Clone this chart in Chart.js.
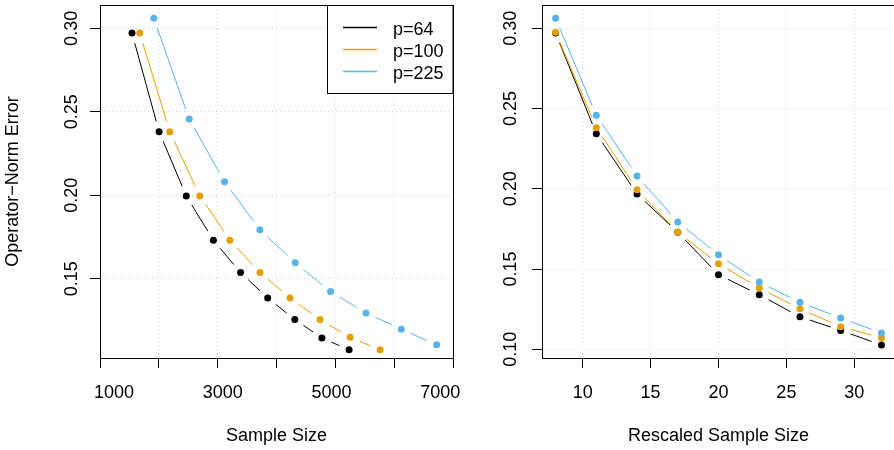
<!DOCTYPE html>
<html>
<head>
<meta charset="utf-8">
<script src="https://cdn.jsdelivr.net/npm/chart.js@4/dist/chart.umd.min.js"></script>
<style>
	html, body { margin: 0; padding: 0; background: #fff; overflow: hidden; width: 894px; height: 450px; }
	#left-chart { position: absolute; left: 0; top: 0; }
	#right-chart { position: absolute; left: 460px; top: 0; }
</style>
</head>
<body>
<canvas id="left-chart" width="470" height="450"></canvas>
<canvas id="right-chart" width="450" height="450"></canvas>
<script>
// series
var seriesLabels = ['p=64', 'p=100', 'p=225'];
var seriesColors = ['#000000', '#E69F00', '#56B4E9'];

// left panel : sample size
var sampleSizeP64 = [1331, 1830, 2329, 2828, 3327, 3826, 4325, 4824, 5323];
var sampleSizeP100 = [1474, 2026, 2579, 3132, 3684, 4237, 4789, 5342, 5895];
var sampleSizeP225 = [1733, 2383, 3033, 3683, 4333, 4983, 5633, 6283, 6933];

// left panel : operator-norm error
var leftErrorP64 = [0.2972, 0.2381, 0.1996, 0.1731, 0.1537, 0.1385, 0.1255, 0.1145, 0.1074];
var leftErrorP100 = [0.2972, 0.2381, 0.1996, 0.1731, 0.1537, 0.1385, 0.1255, 0.1149, 0.1074];
var leftErrorP225 = [0.3060, 0.2457, 0.2081, 0.1794, 0.1595, 0.1423, 0.1295, 0.1198, 0.1104];

// right panel : rescaled sample size
var rescaledSize = [8, 11, 14, 17, 20, 23, 26, 29, 32];

// right panel : operator-norm error
var rightErrorP64 = [0.2971, 0.2343, 0.1968, 0.1729, 0.1465, 0.1340, 0.1203, 0.1118, 0.1027];
var rightErrorP100 = [0.2975, 0.2381, 0.1994, 0.1729, 0.1533, 0.1382, 0.1253, 0.1141, 0.1072];
var rightErrorP225 = [0.3062, 0.2458, 0.2080, 0.1793, 0.1589, 0.1419, 0.1293, 0.1195, 0.1102];

// tick labels
var leftXTickLabels = ['1000', '3000', '5000', '7000'];
var leftYTickLabels = ['0.15', '0.20', '0.25', '0.30'];
var rightXTickLabels = ['10', '15', '20', '25', '30'];
var rightYTickLabels = ['0.10', '0.15', '0.20', '0.25', '0.30'];

var LeftChart;
var RightChart;
var FONT = "18px 'Liberation Sans', Arial, Helvetica, sans-serif";
// gap between a point and its connecting line (type "b")
var GAP = 10.5;

/**
 * frame, lines with gaps, labels, legend
 */
var panelPlugin = {
	id : 'panel',
	beforeDatasetDraw : function(chart, args) {
		var ds = chart.data.datasets[args.index];
		var pts = args.meta.data;
		var ctx = chart.ctx;
		ctx.save();
		ctx.strokeStyle = ds.pointBackgroundColor;
		ctx.lineWidth = 1;
		ctx.beginPath();
		for (var i = 0; i < pts.length - 1; i++) {
			var dx = pts[i + 1].x - pts[i].x;
			var dy = pts[i + 1].y - pts[i].y;
			var d = Math.sqrt(dx * dx + dy * dy);
			if (d <= 2 * GAP) continue;
			var ux = dx / d, uy = dy / d;
			ctx.moveTo(pts[i].x + ux * GAP, pts[i].y + uy * GAP);
			ctx.lineTo(pts[i + 1].x - ux * GAP, pts[i + 1].y - uy * GAP);
		}
		ctx.stroke();
		ctx.restore();
	},
	afterDraw : function(chart, args, opts) {
		var ctx = chart.ctx;
		var area = chart.chartArea;
		var xScale = chart.scales.x;
		var yScale = chart.scales.y;
		ctx.save();
		// frame
		ctx.strokeStyle = '#000';
		ctx.lineWidth = 1;
		ctx.strokeRect(area.left + 0.5, area.top + 0.5, area.right - area.left, area.bottom - area.top);

		ctx.fillStyle = '#000';
		ctx.font = FONT;
		ctx.textAlign = 'center';
		ctx.textBaseline = 'alphabetic';
		// x tick labels
		opts.xTicks.forEach(function(t) {
			ctx.fillText(t, xScale.getPixelForValue(Number(t)), area.bottom + 39.5);
		});
		// y tick labels (rotated)
		opts.yTicks.forEach(function(t) {
			ctx.save();
			ctx.translate(area.left - opts.yLabelGap, yScale.getPixelForValue(Number(t)));
			ctx.rotate(-Math.PI / 2);
			ctx.fillText(t, 0, 0);
			ctx.restore();
		});
		// x title
		ctx.fillText(opts.xTitle, (area.left + area.right) / 2, 441);
		// y title
		if (opts.yTitle) {
			ctx.save();
			ctx.translate(18, (area.top + area.bottom) / 2);
			ctx.rotate(-Math.PI / 2);
			ctx.fillText(opts.yTitle, 0, 0);
			ctx.restore();
		}
		// legend
		if (opts.legend) {
			var boxLeft = 327.5;
			ctx.fillStyle = '#fff';
			ctx.fillRect(boxLeft, area.top + 0.5, area.right - boxLeft, 88);
			ctx.strokeStyle = '#000';
			ctx.strokeRect(boxLeft, area.top + 0.5, area.right - boxLeft, 88);
			ctx.textAlign = 'left';
			for (var i = 0; i < seriesLabels.length; i++) {
				var rowY = 27.5 + i * 22;
				ctx.strokeStyle = seriesColors[i];
				ctx.lineWidth = 1.5;
				ctx.beginPath();
				ctx.moveTo(343, rowY);
				ctx.lineTo(377, rowY);
				ctx.stroke();
				ctx.fillStyle = '#000';
				ctx.fillText(seriesLabels[i], 393, rowY + 7.5);
			}
		}
		ctx.restore();
	}
};

/**
 * dataset 만들기
 * @param xs x values
 * @param ys y values
 * @param i series index
 */
function makeDataset(xs, ys, i) {
	var data = [];
	for (var k = 0; k < xs.length; k++) {
		data.push({ x : xs[k], y : ys[k] });
	}
	return {
		label : seriesLabels[i],
		data : data,
		showLine : false,
		order : 3 - i,
		pointRadius : 3.5,
		pointHoverRadius : 3.5,
		pointBorderWidth : 0,
		pointBackgroundColor : seriesColors[i],
		backgroundColor : seriesColors[i],
	};
}

/**
 * panel 생성
 */
function createPanel(canvasId, datasets, xMin, xMax, xStep, yMin, yMax, yAxisWidth, rightPad, panelOpts) {
	var gridOpts = {
		color : '#d3d3d3',
		lineWidth : 1,
		drawTicks : true,
		tickLength : 10,
		tickColor : '#000',
		tickWidth : 1,
		tickBorderDash : [],
	};
	return new Chart(document.getElementById(canvasId), {
		type : 'scatter',
		data : { datasets : datasets },
		plugins : [ panelPlugin ],
		options : {
			responsive : false,
			animation : false,
			devicePixelRatio : 1,
			events : [],
			layout : { padding : { top : 5, right : rightPad, left : 0, bottom : 0 } },
			plugins : {
				legend : { display : false },
				tooltip : { enabled : false },
				panel : panelOpts,
			},
			scales : {
				x : {
					type : 'linear',
					min : xMin,
					max : xMax,
					ticks : { display : false, stepSize : xStep, includeBounds : false },
					grid : gridOpts,
					border : { display : false, dash : [ 1, 3 ] },
					afterFit : function(scale) { scale.height = 92; },
				},
				y : {
					type : 'linear',
					min : yMin,
					max : yMax,
					ticks : { display : false, stepSize : 0.05, includeBounds : false },
					grid : gridOpts,
					border : { display : false, dash : [ 1, 3 ] },
					afterFit : function(scale) { scale.width = yAxisWidth; },
				}
			}
		}
	});
}

function initView() {
	LeftChart = createPanel('left-chart', [
		makeDataset(sampleSizeP64, leftErrorP64, 0),
		makeDataset(sampleSizeP100, leftErrorP100, 1),
		makeDataset(sampleSizeP225, leftErrorP225, 2)
	], 743, 7234, 1000, 0.1025, 0.314, 100, 17, {
		xTicks : leftXTickLabels,
		yTicks : leftYTickLabels,
		yLabelGap : 23.3,
		xTitle : 'Sample Size',
		yTitle : 'Operator\u2212Norm Error',
		legend : true,
	});

	RightChart = createPanel('right-chart', [
		makeDataset(rescaledSize, rightErrorP64, 0),
		makeDataset(rescaledSize, rightErrorP100, 1),
		makeDataset(rescaledSize, rightErrorP225, 2)
	], 7.0, 33.0, 5, 0.0946, 0.3145, 82, 15, {
		xTicks : rightXTickLabels,
		yTicks : rightYTickLabels,
		yLabelGap : 25.8,
		xTitle : 'Rescaled Sample Size',
		yTitle : null,
		legend : false,
	});
}

initView();
</script>
</body>
</html>
